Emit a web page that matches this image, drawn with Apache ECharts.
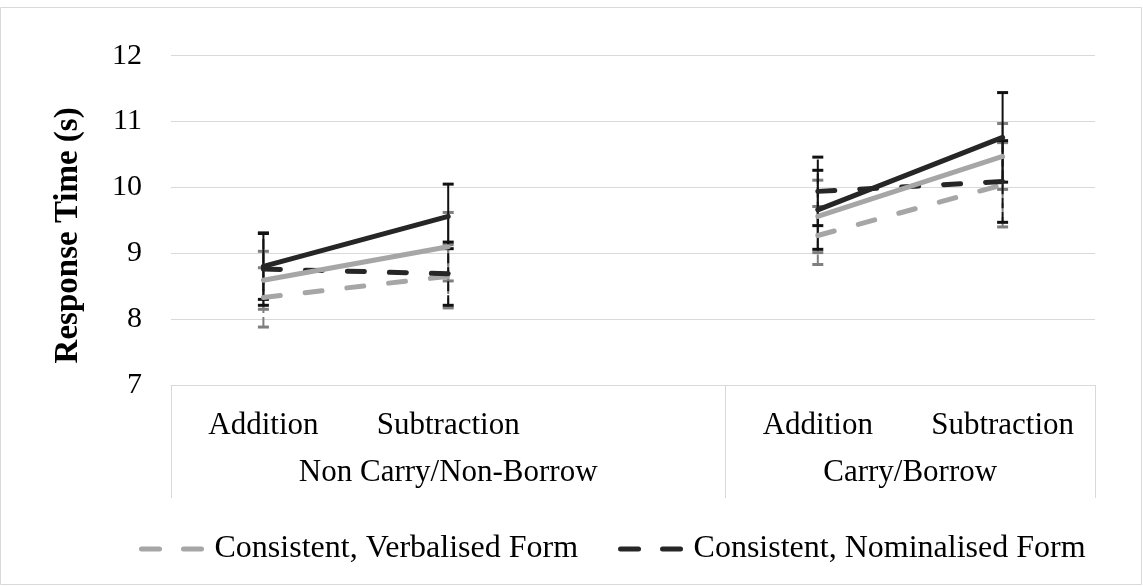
<!DOCTYPE html>
<html>
<head>
<meta charset="utf-8">
<script src="https://cdn.jsdelivr.net/npm/echarts@6/dist/echarts.min.js"></script>
<style>
  html, body { margin: 0; padding: 0; background: #ffffff; }
  #chart { width: 1143px; height: 586px; }
</style>
</head>
<body>
<div id="chart"></div>
<script>
// Operation categories (the empty slot separates the two problem groups)
const categories = ['Addition', 'Subtraction', '', 'Addition', 'Subtraction'];
// Outer grouping of the categories and how many slots each group spans
const groupLabels = ['Non Carry/Non-Borrow', 'Carry/Borrow'];
const groupSizes = [3, 2];

// Response-time axis
const yMin = 7;
const yMax = 12;
const yStep = 1;

// Mean response times (s) and error-bar half widths
const consVerbalised       = [8.33, 8.65, null, 9.27, 10.04];
const consVerbalisedErr    = [0.45, 0.48, null, 0.44, 0.64];
const consNominalised      = [8.76, 8.69, null, 9.94, 10.09];
const consNominalisedErr   = [0.55, 0.48, null, 0.52, 0.62];
const inconsVerbalised     = [8.59, 9.10, null, 9.56, 10.47];
const inconsVerbalisedErr  = [0.44, 0.52, null, 0.55, 0.50];
const inconsNominalised    = [8.80, 9.56, null, 9.66, 10.76];
const inconsNominalisedErr = [0.50, 0.49, null, 0.60, 0.68];

const legendNames = ['Consistent, Verbalised Form', 'Consistent, Nominalised Form'];

const FONT = '"Liberation Serif", "Times New Roman", serif';
const LIGHT = '#a6a6a6';
const DARK = '#262626';
const LIGHT_ERR = '#7f7f7f';
const DARK_ERR = '#111111';
const GRID = '#d9d9d9';

// Centres of the outer groups on a 0..N slot scale
const groupCentres = [];
{
  let start = 0;
  groupSizes.forEach(function (n) { groupCentres.push(start + n / 2); start += n; });
}
const totalSlots = groupSizes.reduce(function (a, b) { return a + b; }, 0);

function errorData(means, errs) {
  const out = [];
  means.forEach(function (m, i) {
    if (m != null) out.push([i, m - errs[i], m + errs[i]]);
  });
  return out;
}

function errorRenderer(color, dash) {
  return function (params, api) {
    const x = api.value(0);
    const lo = api.coord([x, api.value(1)]);
    const hi = api.coord([x, api.value(2)]);
    const hw = 5.5;
    return {
      type: 'group',
      children: [
        { type: 'line', shape: { x1: lo[0], y1: lo[1], x2: hi[0], y2: hi[1] },
          style: { stroke: color, lineWidth: 2, lineDash: dash || null } },
        { type: 'line', shape: { x1: hi[0] - hw, y1: hi[1], x2: hi[0] + hw, y2: hi[1] },
          style: { stroke: color, lineWidth: 3 } },
        { type: 'line', shape: { x1: lo[0] - hw, y1: lo[1], x2: lo[0] + hw, y2: lo[1] },
          style: { stroke: color, lineWidth: 3 } }
      ]
    };
  };
}

function errorSeries(means, errs, color, dash) {
  return {
    type: 'custom',
    xAxisIndex: 0,
    yAxisIndex: 0,
    z: 1,
    silent: true,
    renderItem: errorRenderer(color, dash),
    encode: { x: 0, y: [1, 2] },
    data: errorData(means, errs)
  };
}

function lineSeries(name, data, color, dashed) {
  return {
    name: name,
    type: 'line',
    xAxisIndex: 0,
    yAxisIndex: 0,
    z: 3,
    data: data,
    symbol: 'none',
    connectNulls: false,
    lineStyle: { color: color, width: 5, type: dashed ? [17, 25] : 'solid', cap: 'round' },
    itemStyle: { color: color }
  };
}

const chart = echarts.init(document.getElementById('chart'), null, { renderer: 'canvas' });

chart.setOption({
  animation: false,
  backgroundColor: '#ffffff',
  graphic: [{
    type: 'rect',
    shape: { x: 0.5, y: 7.5, width: 1141, height: 577 },
    style: { fill: 'none', stroke: GRID, lineWidth: 1 },
    silent: true,
    z: -10
  }],
  grid: { left: 171, right: 48, top: 55.7, bottom: 201, containLabel: false },
  legend: {
    data: legendNames,
    left: 134,
    top: 528,
    itemWidth: 65,
    itemHeight: 14,
    itemGap: 40,
    itemStyle: { opacity: 0 },
    lineStyle: { width: 5, type: [18, 24], cap: 'round' },
    textStyle: { fontFamily: FONT, fontSize: 32, color: '#000000', padding: [0, 0, 0, 3] }
  },
  xAxis: [
    {
      type: 'category',
      data: categories,
      boundaryGap: true,
      axisLine: { show: true, lineStyle: { color: GRID, width: 1 } },
      axisTick: {
        show: true,
        length: 113,
        lineStyle: { color: GRID, width: 1 },
        interval: function (index) {
          let start = 0;
          for (let k = 0; k < groupSizes.length; k++) {
            if (index === start) return true;
            start += groupSizes[k];
          }
          return false;
        }
      },
      axisLabel: {
        interval: 0,
        margin: 25,
        fontFamily: FONT,
        fontSize: 31,
        color: '#000000'
      },
      splitLine: { show: false }
    },
    {
      type: 'value',
      position: 'bottom',
      min: 0,
      max: totalSlots,
      interval: 0.5,
      axisLine: { show: false },
      axisTick: { show: false },
      splitLine: { show: false },
      axisLabel: {
        margin: 72,
        fontFamily: FONT,
        fontSize: 31,
        color: '#000000',
        formatter: function (v) {
          for (let k = 0; k < groupCentres.length; k++) {
            if (Math.abs(groupCentres[k] - v) < 1e-6) return groupLabels[k];
          }
          return '';
        }
      }
    }
  ],
  yAxis: {
    type: 'value',
    min: yMin,
    max: yMax,
    interval: yStep,
    name: 'Response Time (s)',
    nameLocation: 'middle',
    nameGap: 86,
    nameTextStyle: {
      fontFamily: FONT,
      fontSize: 33,
      fontWeight: 'bold',
      color: '#000000',
      padding: [0, 30, 0, 0]
    },
    axisLine: { show: false },
    axisTick: { show: false },
    axisLabel: { margin: 29, fontFamily: FONT, fontSize: 30, color: '#000000' },
    splitLine: { show: true, lineStyle: { color: GRID, width: 1 } }
  },
  series: [
    errorSeries(consVerbalised, consVerbalisedErr, LIGHT_ERR, [10, 4]),
    errorSeries(inconsVerbalised, inconsVerbalisedErr, LIGHT_ERR, null),
    errorSeries(consNominalised, consNominalisedErr, DARK_ERR, [10, 4]),
    errorSeries(inconsNominalised, inconsNominalisedErr, DARK_ERR, null),
    lineSeries('Consistent, Verbalised Form', consVerbalised, LIGHT, true),
    lineSeries('Consistent, Nominalised Form', consNominalised, DARK, true),
    lineSeries('Inconsistent, Verbalised Form', inconsVerbalised, LIGHT, false),
    lineSeries('Inconsistent, Nominalised Form', inconsNominalised, DARK, false)
  ]
});
</script>
</body>
</html>
